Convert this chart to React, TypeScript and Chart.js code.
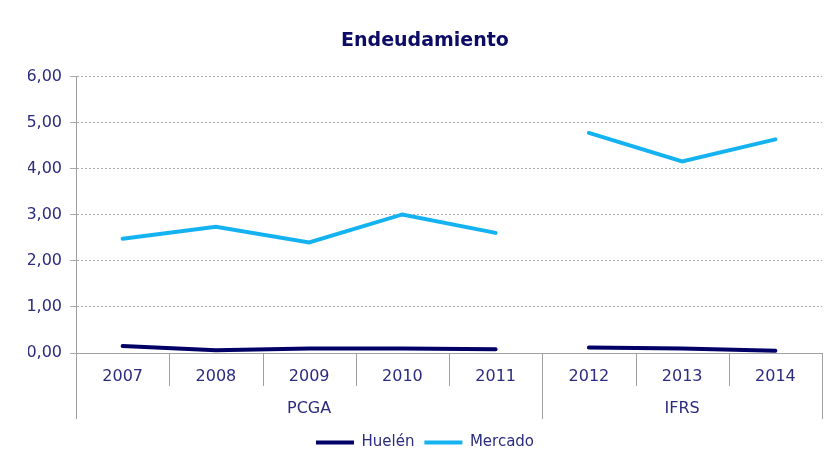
import React, { useEffect, useRef } from "react";
import { Chart, registerables } from "chart.js";

Chart.register(...registerables);

const years = ["2007", "2008", "2009", "2010", "2011", "2012", "2013", "2014"];
const groupLabels = ["PCGA", "IFRS"];
const groupSizes = [5, 3];
const huelen = [0.15, 0.06, 0.1, 0.1, 0.08, 0.12, 0.1, 0.05];
const mercado = [2.48, 2.74, 2.4, 3.01, 2.61, 4.78, 4.16, 4.64];
const seriesNames = ["Huelén", "Mercado"];

const TEXT = "#2B2B7F";
const FONT = "'DejaVu Sans', Verdana, sans-serif";
const LINE_GRAY = "#A0A0A0";

const groupPlugin = {
  id: "groupAxis",
  afterDraw(chart: any) {
    const ctx = chart.ctx;
    const xs = chart.scales.x;
    const area = chart.chartArea;
    const n = years.length;
    const step = (area.right - area.left) / n;
    const y0 = area.bottom;
    const x0 = xs.getPixelForValue(0) - step / 2;
    ctx.save();
    ctx.strokeStyle = LINE_GRAY;
    ctx.lineWidth = 1;
    for (let i = 0; i <= n; i++) {
      const px = Math.round(x0 + i * step) + 0.5;
      ctx.beginPath();
      ctx.moveTo(px, y0);
      ctx.lineTo(px, y0 + 33);
      ctx.stroke();
    }
    const bounds = [0];
    let start = 0;
    groupSizes.forEach((s) => {
      start += s;
      bounds.push(start);
    });
    bounds.forEach((b) => {
      const px = Math.round(x0 + b * step) + 0.5;
      ctx.beginPath();
      ctx.moveTo(px, y0);
      ctx.lineTo(px, y0 + 66);
      ctx.stroke();
    });
    ctx.fillStyle = TEXT;
    ctx.font = `16px ${FONT}`;
    ctx.textAlign = "center";
    ctx.textBaseline = "middle";
    for (let g = 0; g < groupLabels.length; g++) {
      const a = x0 + bounds[g] * step;
      const b = x0 + bounds[g + 1] * step;
      ctx.fillText(groupLabels[g], (a + b) / 2, y0 + 56);
    }
    ctx.restore();
  },
};

export default function App() {
  const ref = useRef<HTMLCanvasElement | null>(null);
  useEffect(() => {
    document.body.style.margin = "0";
    const canvas = ref.current;
    if (!canvas) return;
    const gap = (ctx: any) => (ctx.p0DataIndex === groupSizes[0] - 1 ? "rgba(0,0,0,0)" : undefined);
    const chart = new Chart(canvas, {
      type: "line",
      data: {
        labels: years,
        datasets: [
          {
            label: seriesNames[0],
            data: huelen,
            borderColor: "#000066",
            backgroundColor: "#000066",
            borderWidth: 4,
            pointRadius: 0,
            tension: 0,
            borderCapStyle: "round",
            segment: { borderColor: gap },
          },
          {
            label: seriesNames[1],
            data: mercado,
            borderColor: "#14B2F0",
            backgroundColor: "#14B2F0",
            borderWidth: 4,
            pointRadius: 0,
            tension: 0,
            borderCapStyle: "round",
            segment: { borderColor: gap },
          },
        ],
      },
      options: {
        animation: false,
        responsive: false,
        layout: { padding: { left: 28, right: 14, top: 0, bottom: 10 } },
        plugins: {
          title: {
            display: true,
            text: "Endeudamiento",
            color: "#0C0C66",
            font: { family: FONT, size: 19, weight: "bold" },
            padding: { top: 30, bottom: 24 },
          },
          legend: {
            position: "bottom",
            labels: {
              color: TEXT,
              font: { family: FONT, size: 15 },
              boxWidth: 38,
              boxHeight: 4,
              padding: 10,
              generateLabels: (chart: any) => {
                const items = Chart.defaults.plugins.legend.labels.generateLabels(chart);
                return items.map((it: any) => ({ ...it, lineWidth: 0, fillStyle: it.strokeStyle }));
              },
            },
          },
          tooltip: { enabled: false },
        },
        scales: {
          x: {
            offset: true,
            grid: { display: false, drawTicks: false },
            border: { display: true, color: LINE_GRAY, width: 1 },
            ticks: { color: TEXT, font: { family: FONT, size: 16 }, padding: 14, maxRotation: 0, autoSkip: false },
            afterFit: (scale: any) => {
              scale.height = 72;
            },
          },
          y: {
            min: 0,
            max: 6,
            ticks: {
              stepSize: 1,
              color: TEXT,
              font: { family: FONT, size: 16 },
              padding: 8,
              callback: (v: any) => Number(v).toFixed(2).replace(".", ","),
            },
            grid: { color: "#ABABAB", tickLength: 6, drawTicks: true },
            border: { display: true, color: LINE_GRAY, width: 1, dash: [2, 2] },
            afterFit: (scale: any) => {
              scale.width = 48;
            },
          },
        },
      },
      plugins: [groupPlugin],
    });
    return () => chart.destroy();
  }, []);
  return (
    <div style={{ width: 836, height: 470 }}>
      <canvas ref={ref} width={836} height={470} />
    </div>
  );
}
